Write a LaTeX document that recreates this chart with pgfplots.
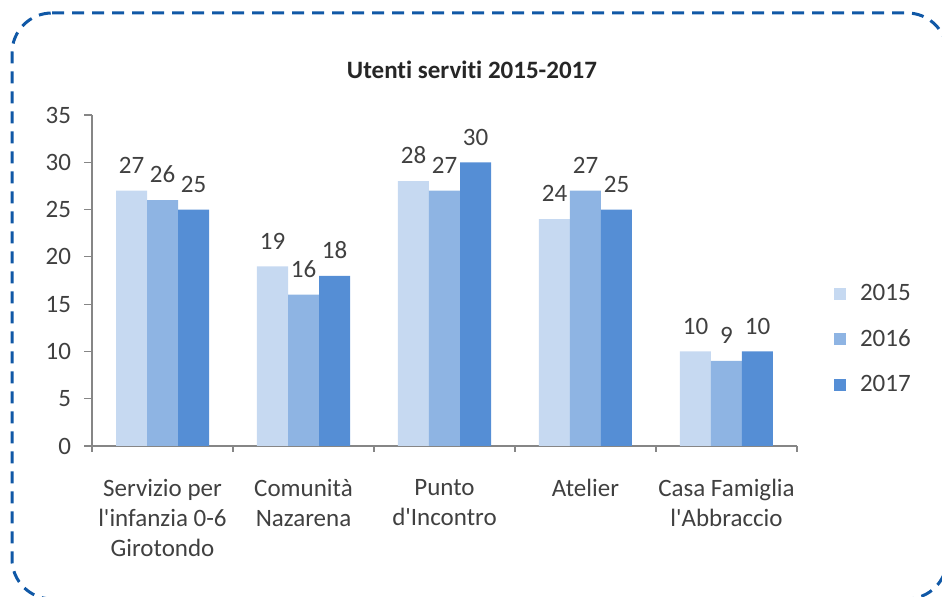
\documentclass[border=0pt]{standalone}
\usepackage{pgfplots}
\pgfplotsset{compat=1.18}
\usepackage{fontspec}
\setmainfont{Carlito}[Ligatures={NoCommon}]
\definecolor{c15}{RGB}{198,217,241}
\definecolor{c16}{RGB}{142,180,227}
\definecolor{c17}{RGB}{85,142,213}
\definecolor{bord}{RGB}{16,88,166}
\definecolor{txt}{RGB}{64,64,64}
\definecolor{axc}{RGB}{134,134,134}
\begin{document}
\begin{tikzpicture}[x=1pt,y=1pt]
\useasboundingbox (0,0) rectangle (471,298.5);
\draw[bord, line width=1.5pt, dash pattern=on 6pt off 4pt, rounded corners=20pt] (6,292) -- (473.5,292) -- (473.5,-1) -- (6,-1) -- cycle;
\node[font=\fontsize{12.5}{14}\selectfont\bfseries, text=black!85] at (236,263.5) {Utenti serviti 2015-2017};
\begin{axis}[
  at={(46pt,75.5pt)}, anchor=south west,
  scale only axis, width=352.5pt, height=165.5pt,
  ymin=0, ymax=35, xmin=-0.5, xmax=4.5,
  ytick={0,5,...,35},
  xtick={0,1,2,3,4},
  xticklabels={{Servizio per\\l\textquotesingle infanzia 0-6\\Girotondo},{Comunità\\Nazarena},{Punto\\d\textquotesingle Incontro},{Atelier},{Casa Famiglia\\l\textquotesingle Abbraccio}},
  x tick label style={align=center, font=\fontsize{12.5}{15}\selectfont, text=txt, anchor=north, yshift=-9pt},
  y tick label style={font=\fontsize{12.5}{14}\selectfont, text=txt, xshift=-3pt},
  /pgf/number format/assume math mode=true,
  minor xtick={-0.5,0.5,...,4.5},
  major x tick style={draw=none},
  tick align=outside,
  major tick length=4pt, minor tick length=3pt,
  tick style={axc, line width=0.6pt},
  axis x line*=bottom, axis y line*=left,
  axis line style={axc, line width=0.6pt, -},
  ybar=0pt, bar width=15.5pt,
  nodes near coords,
  nodes near coords style={font=\fontsize{12.5}{14}\selectfont, text=txt, yshift=5pt},
  legend style={draw=none, fill=none, at={(1.052,0.323)}, anchor=west, font=\fontsize{12.5}{14}\selectfont, text=txt, row sep=9pt, inner sep=0pt,
    nodes={inner xsep=7pt}},
  legend cell align=left,
  legend image code/.code={\fill[#1, draw=none] (0pt,-3pt) rectangle (6pt,3pt);},
]
\addplot[fill=c15, draw=none] coordinates {(0,27) (1,19) (2,28) (3,24) (4,10)};
\addplot[fill=c16, draw=none] coordinates {(0,26) (1,16) (2,27) (3,27) (4,9)};
\addplot[fill=c17, draw=none] coordinates {(0,25) (1,18) (2,30) (3,25) (4,10)};
\legend{2015,2016,2017}
\end{axis}
\end{tikzpicture}
\end{document}
